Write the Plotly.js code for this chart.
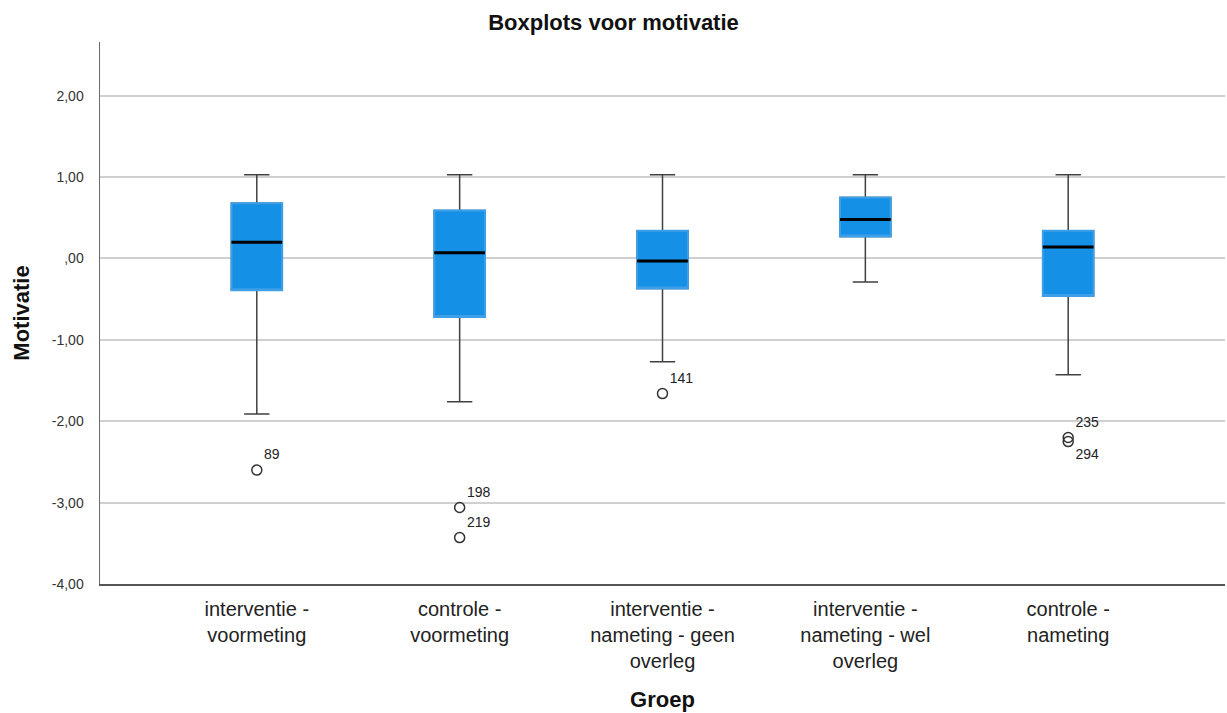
<!DOCTYPE html>
<html>
<head>
<meta charset="utf-8">
<script src="https://cdn.plot.ly/plotly-3.0.1.min.js"></script>
<style>
  html, body { margin: 0; padding: 0; background: #ffffff; }
  #chart { width: 1227px; height: 713px; }
</style>
</head>
<body>
<div id="chart"></div>
<script>
// Groups on the x axis
const groups = [
  'interventie -<br>voormeting',
  'controle -<br>voormeting',
  'interventie -<br>nameting - geen<br>overleg',
  'interventie -<br>nameting - wel<br>overleg',
  'controle -<br>nameting'
];

// Five-number summaries per group (Motivatie)
const lowerWhisker = [-1.91, -1.76, -1.27, -0.29, -1.43];
const quartile1    = [-0.39, -0.72, -0.37,  0.27, -0.46];
const medians      = [ 0.20,  0.07, -0.03,  0.48,  0.14];
const quartile3    = [ 0.68,  0.59,  0.34,  0.75,  0.34];
const upperWhisker = [ 1.03,  1.03,  1.03,  1.03,  1.03];

// Outliers with their case numbers
const outlierGroup = [0, 1, 1, 2, 4, 4];
const outlierValue = [-2.60, -3.06, -3.43, -1.66, -2.20, -2.25];
const outlierId    = ['89', '198', '219', '141', '235', '294'];
const outlierTextPos = ['top right', 'top right', 'top right', 'top right', 'top right', 'bottom right'];

// Y axis tick labels (Dutch decimal comma)
const yTickVals = [-4, -3, -2, -1, 0, 1, 2];
const yTickText = ['-4,00', '-3,00', '-2,00', '-1,00', ',00', '1,00', '2,00'];

const boxFill = '#1490e6';
const whiskerColor = '#404040';
const fontFamily = 'Liberation Sans, Arial, sans-serif';

// Whiskers and caps
const whiskers = {
  type: 'box',
  x: groups,
  q1: quartile1,
  median: medians,
  q3: quartile3,
  lowerfence: lowerWhisker,
  upperfence: upperWhisker,
  width: 0.25,
  whiskerwidth: 0.5,
  boxpoints: false,
  fillcolor: 'rgba(0,0,0,0)',
  line: { color: whiskerColor, width: 1.5 },
  hoverinfo: 'skip',
  showlegend: false
};

// Filled interquartile boxes
const bodies = {
  type: 'box',
  x: groups,
  q1: quartile1,
  median: quartile1,
  q3: quartile3,
  lowerfence: quartile1,
  upperfence: quartile3,
  width: 0.25,
  whiskerwidth: 0,
  boxpoints: false,
  fillcolor: boxFill,
  line: { color: '#3c9fe8', width: 2 },
  hoverinfo: 'skip',
  showlegend: false
};

// Median bars
const medianBars = {
  type: 'box',
  x: groups,
  q1: medians,
  median: medians,
  q3: medians,
  lowerfence: medians,
  upperfence: medians,
  width: 0.25,
  whiskerwidth: 0,
  boxpoints: false,
  fillcolor: 'rgba(0,0,0,0)',
  line: { color: '#000000', width: 3 },
  hoverinfo: 'skip',
  showlegend: false
};

const outliers = {
  type: 'scatter',
  mode: 'markers+text',
  x: outlierGroup.map(i => groups[i]),
  y: outlierValue,
  text: outlierId,
  textposition: outlierTextPos,
  textfont: { family: fontFamily, size: 14, color: '#222222' },
  marker: { symbol: 'circle-open', size: 10, color: '#333333', line: { width: 1.5, color: '#333333' } },
  cliponaxis: false,
  hoverinfo: 'skip',
  showlegend: false
};

const layout = {
  width: 1227,
  height: 713,
  margin: { l: 100, r: 2, t: 42, b: 129 },
  paper_bgcolor: '#ffffff',
  plot_bgcolor: '#ffffff',
  boxmode: 'overlay',
  showlegend: false,
  font: { family: fontFamily, color: '#222222' },
  title: {
    text: 'Boxplots voor motivatie',
    font: { family: fontFamily, size: 22, weight: 'bold', color: '#111111' },
    x: 0.5,
    xref: 'container',
    y: 1 - 22 / 713,
    yref: 'container',
    yanchor: 'middle'
  },
  xaxis: {
    type: 'category',
    categoryorder: 'array',
    categoryarray: groups,
    range: [-0.773, 4.773],
    showgrid: false,
    zeroline: false,
    showline: true,
    linecolor: '#555555',
    linewidth: 1.5,
    ticks: '',
    ticklabelstandoff: 6,
    tickfont: { family: fontFamily, size: 20, color: '#222222' },
    title: {
      text: 'Groep',
      font: { family: fontFamily, size: 22, weight: 'bold', color: '#111111' },
      standoff: 21
    },
    automargin: false,
    fixedrange: true
  },
  yaxis: {
    range: [-4, 2.66],
    tickvals: yTickVals,
    ticktext: yTickText,
    showgrid: true,
    gridcolor: '#d0d0d0',
    gridwidth: 2,
    zeroline: false,
    showline: true,
    linecolor: '#6a6a6a',
    linewidth: 1.5,
    ticks: '',
    ticklabelstandoff: 12,
    tickfont: { family: fontFamily, size: 14, color: '#333333' },
    title: {
      text: 'Motivatie',
      font: { family: fontFamily, size: 22, weight: 'bold', color: '#111111' },
      standoff: 16
    },
    automargin: false,
    fixedrange: true
  }
};

Plotly.newPlot('chart', [whiskers, bodies, medianBars, outliers], layout, { staticPlot: true, displayModeBar: false });
</script>
</body>
</html>
